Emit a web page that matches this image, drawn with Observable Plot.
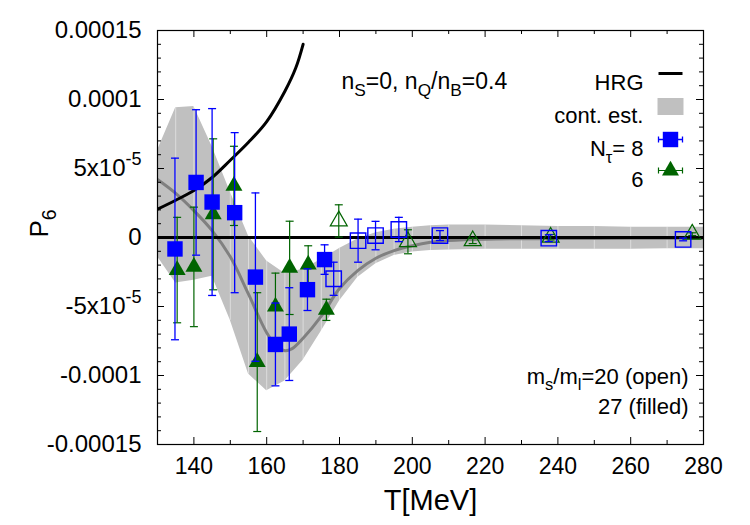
<!DOCTYPE html>
<html>
<head>
<meta charset="utf-8">
<script src="https://cdn.jsdelivr.net/npm/d3@7"></script>
<script src="https://cdn.jsdelivr.net/npm/@observablehq/plot@0.6"></script>
<style>
  body { margin: 0; background: #fff; }
  #chart svg { font-family: "Liberation Sans", Arial, Helvetica, sans-serif; }
</style>
</head>
<body>
<div id="chart"></div>
<script>
// Sixth-order pressure coefficient P6 versus temperature.
// All P6 values below are given in units of 1e-5.

// Hadron resonance gas
const hrgT = [130, 135, 140, 145, 150, 155, 160, 165, 168, 170];
const hrgP = [2.05, 2.7, 3.4, 4.35, 5.6, 6.9, 8.4, 10.6, 12.3, 14.0];

// Continuum estimate: band edges and central curve
const bandT  = [130, 135, 140, 145, 150, 155, 160, 165, 170, 175, 180, 185, 190, 195, 200, 205, 210, 220, 230, 240, 250, 260, 270, 280];
const bandHi = [6.3, 9.4, 9.5, 6.6, 3.3, 0.1, -1.7, -2.6, -2.3, -1.6, -0.8, -0.1, 0.35, 0.6, 0.75, 0.85, 0.9, 0.9, 0.85, 0.8, 0.8, 0.75, 0.75, 0.75];
const bandLo = [-1.4, -3.3, -3.1, -2.8, -6.0, -9.9, -11.1, -10.4, -8.9, -6.8, -4.6, -2.9, -1.9, -1.3, -1.05, -0.95, -0.9, -0.85, -0.85, -0.85, -0.85, -0.85, -0.82, -0.82];
const midT = [130, 135, 140, 145, 150, 155, 160, 163, 165, 167, 170, 175, 180, 185, 190, 195, 200, 205, 210, 220, 240, 260, 280];
const midP = [4.2, 3.2, 1.95, 0.5, -1.4, -4.1, -6.9, -7.95, -8.2, -8.05, -7.3, -5.7, -3.7, -2.4, -1.5, -0.95, -0.6, -0.35, -0.22, -0.12, -0.08, -0.06, -0.05];

// N_tau = 8, m_s/m_l = 27 (filled squares)
const n8fT = [134.8, 140.6, 145.0, 151.2, 156.9, 162.4, 166.2, 171.2, 175.9];
const n8fP = [-0.83, 3.99, 2.57, 1.8, -2.87, -7.75, -7.0, -3.78, -1.6];
const n8fE = [6.58, 5.27, 6.77, 5.8, 6.1, 3.0, 3.36, 1.51, 1.07];
// N_tau = 8, m_s/m_l = 20 (open squares)
const n8oT = [178.4, 185.1, 189.9, 196.3, 207.6, 237.5, 274.4];
const n8oP = [-2.99, -0.23, 0.14, 0.58, 0.14, -0.05, -0.14];
const n8oE = [1.2, 1.56, 1.03, 0.88, 0.36, 0.25, 0.1];
// N_tau = 6, m_s/m_l = 27 (filled triangles)
const n6fT = [135.4, 140.0, 145.3, 151.0, 157.4, 162.4, 166.3, 171.4, 176.4];
const n6fP = [-2.36, -2.13, 1.68, 3.74, -9.03, -5.0, -2.2, -1.96, -5.24];
const n6fE = [3.82, 4.33, 5.47, 2.87, 5.03, 2.42, 3.38, 1.36, 0.77];
// N_tau = 6, m_s/m_l = 20 (open triangles)
const n6oT = [179.8, 198.8, 216.6, 238.0, 276.9];
const n6oP = [1.2, -0.31, -0.24, 0.02, 0.24];
const n6oE = [1.17, 0.87, 0.2, 0.2, 0.1];

// Axis ticks and labels
const xMajor = [140, 160, 180, 200, 220, 240, 260, 280];
const xMinor = [150, 170, 190, 210, 230, 250, 270];
const yMajor = [-15, -10, -5, 0, 5, 10, 15];
const yLabels = ["-0.00015", "-0.0001", "-5x10^{-5}", "0", "5x10^{-5}", "0.0001", "0.00015"];
const yMinor = d3.range(-14, 15).filter(v => v % 5 !== 0);

// Legend and annotation texts
const legendLabels = ["HRG", "cont. est.", "N_{τ}= 8", "6"];
const condition = "n_{S}=0, n_{Q}/n_{B}=0.4";
const massNote = ["m_{s}/m_{l}=20 (open)", "27 (filled)"];

const BLUE = "#0000ff", GREEN = "#006400", BAND = "#c0c0c0", MID = "#808080";

const rows = (T, P, E) => T.map((t, i) => ({T: t, P: P[i], E: E ? E[i] : 0}));
const hrg = rows(hrgT, hrgP);
const band = bandT.map((t, i) => ({T: t, lo: bandLo[i], hi: bandHi[i]}));
const mid = rows(midT, midP);
const n8f = rows(n8fT, n8fP, n8fE);
const n8o = rows(n8oT, n8oP, n8oE);
const n6f = rows(n6fT, n6fP, n6fE);
const n6o = rows(n6oT, n6oP, n6oE);

// custom symbols
const capSym = {draw(ctx) { ctx.moveTo(-4, 0); ctx.lineTo(4, 0); }};
const lineSym = {draw(ctx) { ctx.moveTo(-12, 0); ctx.lineTo(12, 0); }};
const boxSym = {draw(ctx) { ctx.rect(-13, -8.5, 26, 17); }};
const hbarSym = {draw(ctx) {
  ctx.moveTo(-12, 0); ctx.lineTo(12, 0);
  ctx.moveTo(-12, -3); ctx.lineTo(-12, 3);
  ctx.moveTo(12, -3); ctx.lineTo(12, 3);
}};

function errorBars(data, color, width) {
  return [
    Plot.ruleX(data, {x: "T", y1: d => d.P - d.E, y2: d => d.P + d.E, stroke: color, strokeWidth: width}),
    Plot.dot(data, {x: "T", y: d => d.P - d.E, symbol: capSym, stroke: color, strokeWidth: width, fill: "none"}),
    Plot.dot(data, {x: "T", y: d => d.P + d.E, symbol: capSym, stroke: color, strokeWidth: width, fill: "none"})
  ];
}

const PH = 414, PW = 546;
const one = [0];
// vertical offsets of the legend rows and of the two mass-ratio lines
const legendRowY = [44, 77, 110, 141];
const massRowY = [-61, -31];

const chart = Plot.plot({
  width: 750,
  height: 525,
  marginLeft: 157,
  marginRight: 47,
  marginTop: 30,
  marginBottom: 81,
  style: {fontSize: "22px", fontFamily: "Liberation Sans, Arial, sans-serif", background: "#fff"},
  x: {domain: [130, 280]},
  y: {domain: [-15, 15]},
  marks: [
    // continuum band
    Plot.areaY(band, {x: "T", y1: "lo", y2: "hi", fill: BAND, clip: true}),
    Plot.ruleX(band, {x: "T", y1: "lo", y2: "hi", stroke: "#fff", strokeOpacity: 0.45, strokeWidth: 1}),
    Plot.line(mid, {x: "T", y: "P", stroke: MID, strokeWidth: 3, curve: "catmull-rom", clip: true}),
    // zero line and HRG
    Plot.ruleY([0], {stroke: "#000", strokeWidth: 3}),
    Plot.line(hrg, {x: "T", y: "P", stroke: "#000", strokeWidth: 3, curve: "catmull-rom", clip: true}),
    // N_tau = 6
    ...errorBars(n6f, GREEN, 1.2),
    Plot.dot(n6f, {x: "T", y: "P", symbol: "triangle", r: 6.3, fill: GREEN, stroke: "none"}),
    ...errorBars(n6o, GREEN, 1.2),
    Plot.dot(n6o, {x: "T", y: "P", symbol: "triangle", r: 6.3, fill: "none", stroke: GREEN, strokeWidth: 1.2}),
    // N_tau = 8
    ...errorBars(n8f, BLUE, 1.3),
    Plot.dot(n8f, {x: "T", y: "P", symbol: "square", r: 8.7, fill: BLUE, stroke: "none"}),
    ...errorBars(n8o, BLUE, 1.3),
    Plot.dot(n8o, {x: "T", y: "P", symbol: "square", r: 8.7, fill: "none", stroke: BLUE, strokeWidth: 1.4}),
    // inward ticks on all four sides
    Plot.ruleX(xMajor, {insetTop: PH - 7, stroke: "#000"}),
    Plot.ruleX(xMajor, {insetBottom: PH - 7, stroke: "#000"}),
    Plot.ruleX(xMinor, {insetTop: PH - 4, stroke: "#000"}),
    Plot.ruleX(xMinor, {insetBottom: PH - 4, stroke: "#000"}),
    Plot.ruleY(yMajor, {insetRight: PW - 7, stroke: "#000"}),
    Plot.ruleY(yMajor, {insetLeft: PW - 7, stroke: "#000"}),
    Plot.ruleY(yMinor, {insetRight: PW - 4, stroke: "#000"}),
    Plot.ruleY(yMinor, {insetLeft: PW - 4, stroke: "#000"}),
    Plot.frame({stroke: "#000", strokeWidth: 1.2}),
    // tick labels
    Plot.axisX(xMajor, {tickSize: 0, tickPadding: 13, label: null, fontSize: 23}),
    Plot.axisY(yMajor, {tickSize: 0, tickPadding: 16, label: null, fontSize: 24,
      tickFormat: d => yLabels[yMajor.indexOf(d)]}),
    // axis titles
    Plot.text(["T[MeV]"], {frameAnchor: "bottom", dy: 65, fontSize: 29}),
    Plot.text(["P_{6}"], {frameAnchor: "left", dx: -118, rotate: -90, fontSize: 26}),
    // condition and mass annotations
    Plot.text([condition], {frameAnchor: "top-left", dx: 184, dy: 42, textAnchor: "start", fontSize: 23}),
    ...massNote.map((s, i) => Plot.text([s], {frameAnchor: "bottom-right", dx: -15, dy: massRowY[i], textAnchor: "end", fontSize: 22})),
    // legend
    ...legendLabels.map((s, i) => Plot.text([s], {frameAnchor: "top-right", dx: -60, dy: legendRowY[i], textAnchor: "end", fontSize: 22})),
    Plot.dot(one, {frameAnchor: "top-right", dx: -33, dy: 43, symbol: lineSym, stroke: "#000", strokeWidth: 3, fill: "none"}),
    Plot.dot(one, {frameAnchor: "top-right", dx: -33, dy: 76, symbol: boxSym, fill: BAND, stroke: "none"}),
    Plot.dot(one, {frameAnchor: "top-right", dx: -33, dy: 109, symbol: hbarSym, stroke: BLUE, strokeWidth: 1.3, fill: "none"}),
    Plot.dot(one, {frameAnchor: "top-right", dx: -33, dy: 109, symbol: "square", r: 8.7, fill: BLUE, stroke: "none"}),
    Plot.dot(one, {frameAnchor: "top-right", dx: -33, dy: 140, symbol: hbarSym, stroke: GREEN, strokeWidth: 1.2, fill: "none"}),
    Plot.dot(one, {frameAnchor: "top-right", dx: -33, dy: 140, symbol: "triangle", r: 6.3, fill: GREEN, stroke: "none"})
  ]
});

document.getElementById("chart").appendChild(chart);

// Render _{...} and ^{...} as sub- and superscripts
function richify(root) {
  root.querySelectorAll("text").forEach(t => {
    const s = t.textContent;
    if (!/[_^]\{/.test(s)) return;
    const fs = parseFloat(getComputedStyle(t).fontSize) || 22;
    const parts = [];
    const re = /([_^])\{([^}]*)\}|([^_^]+)/g;
    let m;
    while ((m = re.exec(s))) {
      if (m[1]) parts.push({text: m[2], shift: m[1] === "_" ? 0.3 * fs : -0.45 * fs, small: true});
      else parts.push({text: m[3], shift: 0, small: false});
    }
    while (t.firstChild) t.removeChild(t.firstChild);
    let cur = 0;
    for (const p of parts) {
      const ts = document.createElementNS("http://www.w3.org/2000/svg", "tspan");
      ts.setAttribute("dy", (p.shift - cur).toFixed(2));
      if (p.small) ts.setAttribute("font-size", (fs * 0.75).toFixed(1));
      ts.textContent = p.text;
      t.appendChild(ts);
      cur = p.shift;
    }
  });
}
richify(chart);
</script>
</body>
</html>
